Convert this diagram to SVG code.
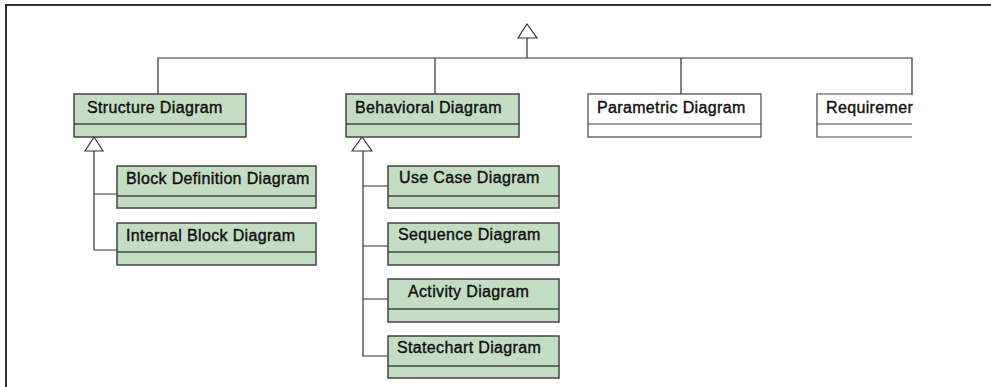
<svg xmlns="http://www.w3.org/2000/svg" width="991" height="387" viewBox="0 0 991 387">
<style>
.frame{fill:none;stroke:#333;stroke-width:2}
.box{fill:#c3ddc3;stroke:#444;stroke-width:1.5}
.wbox{fill:#fff;stroke:#444;stroke-width:1.2}
.div{stroke:#444;stroke-width:1.5;fill:none}
.wdiv{stroke:#444;stroke-width:1.2;fill:none}
.conn{fill:none;stroke:#333;stroke-width:1.2}
.tri{fill:#fff;stroke:#333;stroke-width:1.2}
.lbl{font-family:"Liberation Sans",Arial,sans-serif;font-size:16px;fill:#111;stroke:#111;stroke-width:0.4px;letter-spacing:0.35px}
</style>
<rect width="991" height="387" fill="#fff"/>
<path class="frame" d="M6,387 V5 H991"/>
<g id="connectors">
<path class="conn" d="M158,95 V58 H912 V95"/>
<path class="conn" d="M435,58 V95"/>
<path class="conn" d="M681,58 V95"/>
<path class="conn" d="M527,58 V38"/>
<polygon class="tri" points="527,24 518,38 537,38"/>
<path class="conn" d="M94,151 V250 H117 M94,194 H117"/>
<polygon class="tri" points="94,137 85,151 103,151"/>
<path class="conn" d="M363,151 V356 H388 M363,186 H388 M363,246 H388 M363,299 H388"/>
<polygon class="tri" points="362,137 352,151 372,151"/>
</g>
<g id="structure">
<rect class="box" x="74" y="94" width="172" height="43"/>
<line class="div" x1="74" y1="124" x2="246" y2="124"/>
<text class="lbl" x="87" y="113">Structure Diagram</text>
</g>
<g id="behavioral">
<rect class="box" x="346" y="94" width="173" height="43"/>
<line class="div" x1="346" y1="124" x2="519" y2="124"/>
<text class="lbl" x="355" y="113">Behavioral Diagram</text>
</g>
<g id="parametric">
<rect class="wbox" x="588" y="94" width="173" height="43"/>
<line class="wdiv" x1="588" y1="124" x2="761" y2="124"/>
<text class="lbl" x="597" y="113">Parametric Diagram</text>
</g>
<g id="requirement">
<path class="wdiv" d="M912,94 H817 V137 H912 M817,124 H912"/>
<text class="lbl" x="826" y="113">Requiremer</text>
</g>
<g id="blockdef">
<rect class="box" x="117" y="166" width="199" height="42"/>
<line class="div" x1="117" y1="196" x2="316" y2="196"/>
<text class="lbl" x="126" y="184">Block Definition Diagram</text>
</g>
<g id="internalblock">
<rect class="box" x="117" y="223" width="199" height="42"/>
<line class="div" x1="117" y1="252" x2="316" y2="252"/>
<text class="lbl" x="126" y="241">Internal Block Diagram</text>
</g>
<g id="usecase">
<rect class="box" x="388" y="166" width="171" height="42"/>
<line class="div" x1="388" y1="196" x2="559" y2="196"/>
<text class="lbl" x="399" y="183">Use Case Diagram</text>
</g>
<g id="sequence">
<rect class="box" x="388" y="223" width="171" height="42"/>
<line class="div" x1="388" y1="252" x2="559" y2="252"/>
<text class="lbl" x="398" y="240">Sequence Diagram</text>
</g>
<g id="activity">
<rect class="box" x="388" y="279" width="171" height="43"/>
<line class="div" x1="388" y1="309" x2="559" y2="309"/>
<text class="lbl" x="408" y="297">Activity Diagram</text>
</g>
<g id="statechart">
<rect class="box" x="388" y="336" width="171" height="42"/>
<line class="div" x1="388" y1="366" x2="559" y2="366"/>
<text class="lbl" x="397" y="353">Statechart Diagram</text>
</g>
</svg>
